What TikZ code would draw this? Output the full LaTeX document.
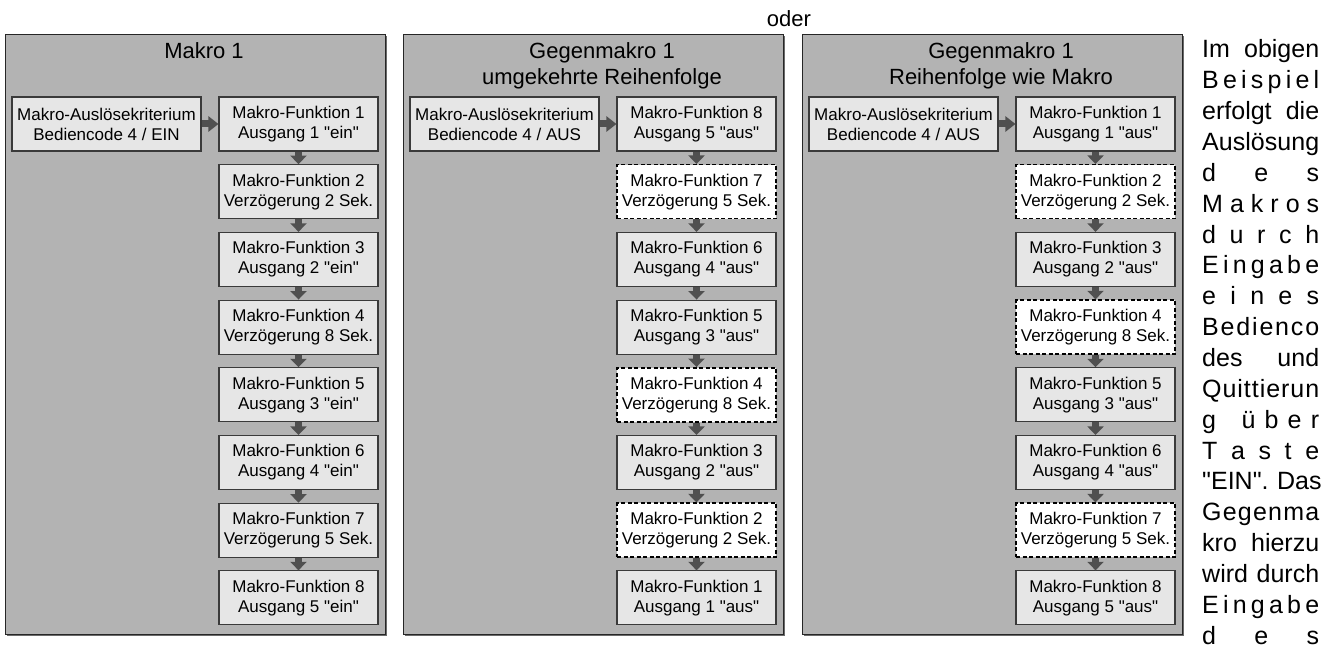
\documentclass[tikz,border=0pt]{standalone}
\usepackage{fontspec}
\setmainfont{Liberation Sans}[Ligatures=TeXOff]
\usetikzlibrary{arrows.meta,shadows}
\definecolor{panelgray}{HTML}{B3B3B3}
\definecolor{boxgray}{HTML}{E6E6E6}
\definecolor{arrowgray}{HTML}{505050}
\definecolor{shadowgray}{HTML}{6A6A6A}
\definecolor{edgegray}{HTML}{3A3A3A}
\newlength\colw
\setlength\colw{117pt}
\def\spreadit#1{\makebox[\colw][s]{\spreadA#1\relax}}
\def\spreadA#1{#1\spreadB}
\def\spreadB#1{\ifx#1\relax\else\hfil#1\expandafter\spreadB\fi}
\def\wsp{\hskip0.28em}
\def\wjust#1{\makebox[\colw][s]{#1}}
\tikzset{
  panel/.style={draw=black!85, line width=1pt, fill=panelgray, minimum width=380pt, minimum height=599pt, inner sep=0pt,
    drop shadow={shadow xshift=1.5pt, shadow yshift=-1.5pt, fill=shadowgray, opacity=1}},
  title/.style={anchor=base, inner sep=0pt, font=\fontsize{22}{26}\selectfont},
  fbox/.style={draw=edgegray, line width=1.1pt, fill=boxgray, minimum width=159pt, minimum height=54pt, inner sep=0pt, align=center, font=\fontsize{17}{20}\selectfont},
  dbox/.style={fbox, fill=white, draw=black, dashed, dash pattern=on 4pt off 2.5pt, line width=1.5pt},
  tbox/.style={fbox, minimum width=189pt},
  varr/.style={draw=arrowgray, line width=7pt, -{Triangle[width=16pt 0, length=8.5pt 0]}},
  harr/.style={draw=arrowgray, line width=7pt, -{Triangle[width=15pt 0, length=10pt 0]}}
}
\begin{document}
\begin{tikzpicture}[x=1pt, y=-1pt]
\useasboundingbox (0,0) rectangle (1340,652);
\node[font=\fontsize{22}{24}\selectfont, anchor=base, inner sep=0pt] (oder) at (789,27) {oder};
% panels
\node[panel] (P1) at (195,334.5) {};
\node[panel] (P2) at (593,334.5) {};
\node[panel] (P3) at (992,334.5) {};
\node[title] (T1) at (204,58.5) {Makro 1};
\node[title] (T2a) at (602,58.5) {Gegenmakro 1};
\node[title] (T2b) at (602,84.5) {umgekehrte Reihenfolge};
\node[title] (T3a) at (1001,58.5) {Gegenmakro 1};
\node[title] (T3b) at (1001,84.5) {Reihenfolge wie Makro};
% panel 1
\node[tbox] (At) at (106.5,124) {Makro-Auslösekriterium\\Bediencode 4 / EIN};
\node[fbox] (A1) at (298.5,124) {Makro-Funktion 1\\Ausgang 1 "ein"};
\node[fbox] (A2) at (298.5,191.7) {Makro-Funktion 2\\Verzögerung 2 Sek.};
\node[fbox] (A3) at (298.5,259.4) {Makro-Funktion 3\\Ausgang 2 "ein"};
\node[fbox] (A4) at (298.5,327.1) {Makro-Funktion 4\\Verzögerung 8 Sek.};
\node[fbox] (A5) at (298.5,394.8) {Makro-Funktion 5\\Ausgang 3 "ein"};
\node[fbox] (A6) at (298.5,462.5) {Makro-Funktion 6\\Ausgang 4 "ein"};
\node[fbox] (A7) at (298.5,530.2) {Makro-Funktion 7\\Verzögerung 5 Sek.};
\node[fbox] (A8) at (298.5,597.9) {Makro-Funktion 8\\Ausgang 5 "ein"};
% panel 2
\node[tbox] (Bt) at (504.5,124) {Makro-Auslösekriterium\\Bediencode 4 / AUS};
\node[fbox] (B1) at (696.5,124) {Makro-Funktion 8\\Ausgang 5 "aus"};
\node[dbox] (B2) at (696.5,191.7) {Makro-Funktion 7\\Verzögerung 5 Sek.};
\node[fbox] (B3) at (696.5,259.4) {Makro-Funktion 6\\Ausgang 4 "aus"};
\node[fbox] (B4) at (696.5,327.1) {Makro-Funktion 5\\Ausgang 3 "aus"};
\node[dbox] (B5) at (696.5,394.8) {Makro-Funktion 4\\Verzögerung 8 Sek.};
\node[fbox] (B6) at (696.5,462.5) {Makro-Funktion 3\\Ausgang 2 "aus"};
\node[dbox] (B7) at (696.5,530.2) {Makro-Funktion 2\\Verzögerung 2 Sek.};
\node[fbox] (B8) at (696.5,597.9) {Makro-Funktion 1\\Ausgang 1 "aus"};
% panel 3
\node[tbox] (Ct) at (903.5,124) {Makro-Auslösekriterium\\Bediencode 4 / AUS};
\node[fbox] (C1) at (1095.5,124) {Makro-Funktion 1\\Ausgang 1 "aus"};
\node[dbox] (C2) at (1095.5,191.7) {Makro-Funktion 2\\Verzögerung 2 Sek.};
\node[fbox] (C3) at (1095.5,259.4) {Makro-Funktion 3\\Ausgang 2 "aus"};
\node[dbox] (C4) at (1095.5,327.1) {Makro-Funktion 4\\Verzögerung 8 Sek.};
\node[fbox] (C5) at (1095.5,394.8) {Makro-Funktion 5\\Ausgang 3 "aus"};
\node[fbox] (C6) at (1095.5,462.5) {Makro-Funktion 6\\Ausgang 4 "aus"};
\node[dbox] (C7) at (1095.5,530.2) {Makro-Funktion 7\\Verzögerung 5 Sek.};
\node[fbox] (C8) at (1095.5,597.9) {Makro-Funktion 8\\Ausgang 5 "aus"};
% connectors
\foreach \p in {A,B,C}{
  \draw[harr] (\p t.east) -- (\p 1.west);
  \foreach \i in {1,...,7}{
    \pgfmathtruncatemacro\j{\i+1}
    \draw[varr] (\p\i.south) -- (\p\j.north);
  }
}
% side text
\node[anchor=base west, inner sep=0pt, font=\fontsize{25}{30.85}\selectfont] (side) at (1202,58) {\parbox[t]{\colw}{%
\wjust{Im obigen}\\
\spreadit{Beispiel}\\
\wjust{erfolgt die}\\
\spreadit{Auslösung}\\
\spreadit{des}\\
\spreadit{Makros}\\
\spreadit{durch}\\
\spreadit{Eingabe}\\
\spreadit{eines}\\
\spreadit{Bedienco}\\
\wjust{des und}\\
\spreadit{Quittierun}\\
\spreadit{g\wsp über}\\
\spreadit{Taste}\\
\wjust{"EIN". Das}\\
\spreadit{Gegenma}\\
\wjust{kro hierzu}\\
\wjust{wird durch}\\
\spreadit{Eingabe}\\
\spreadit{des}}};
\end{tikzpicture}
\end{document}
